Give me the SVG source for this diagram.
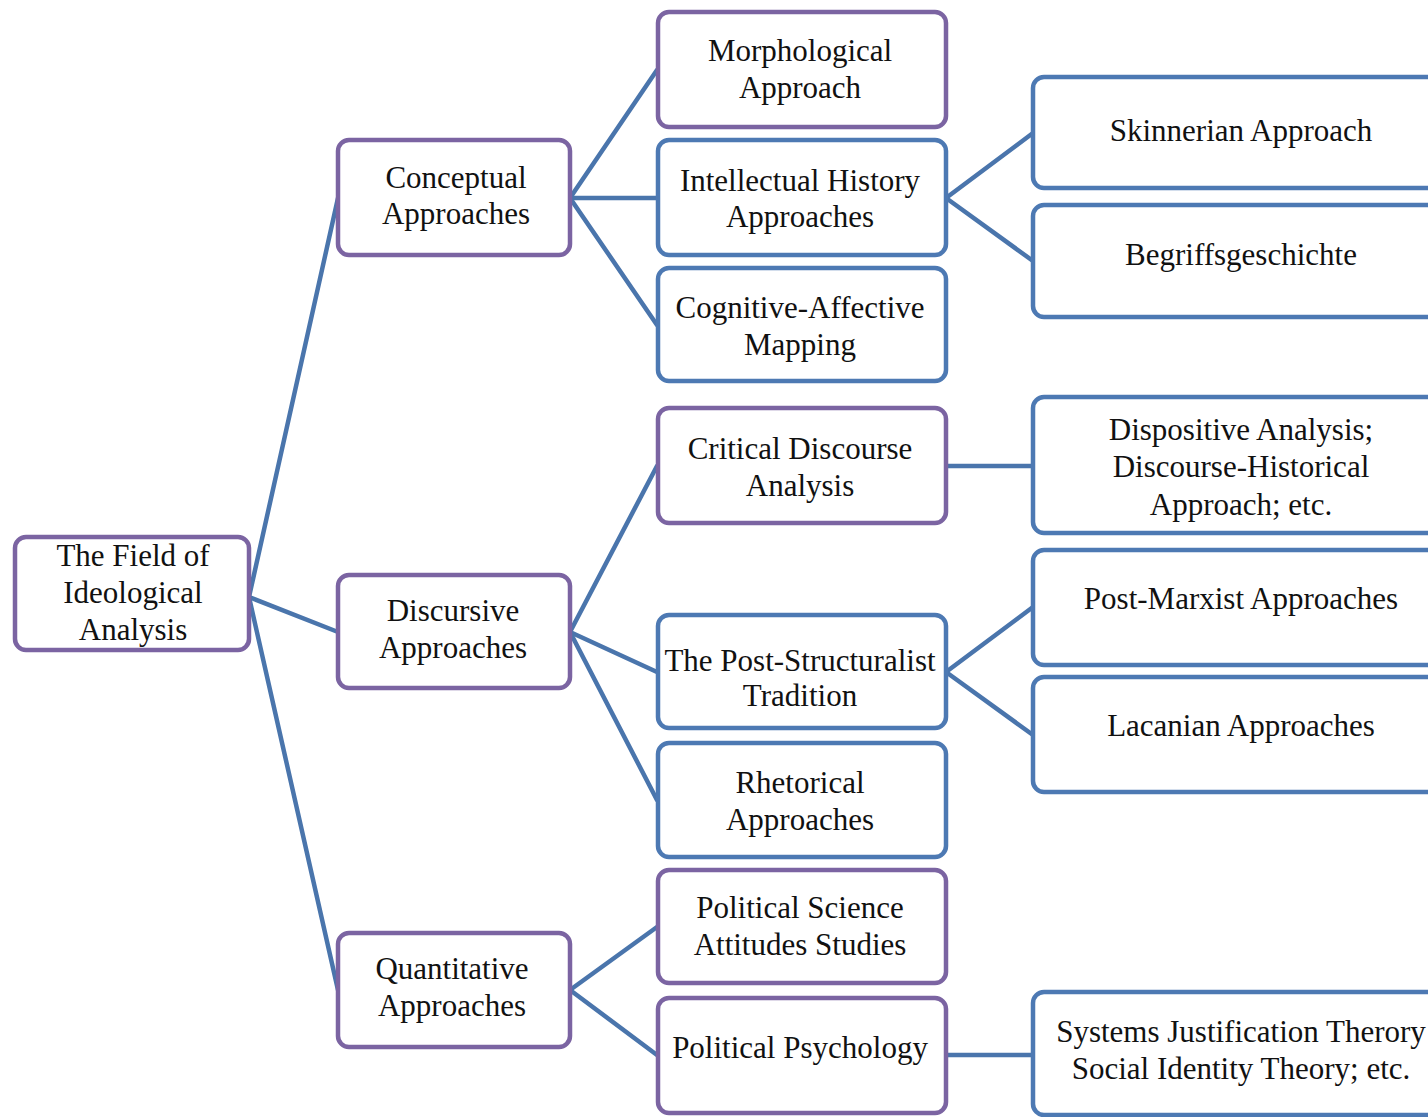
<svg xmlns="http://www.w3.org/2000/svg" width="1428" height="1117" viewBox="0 0 1428 1117">
  <style>
    .box { fill: #ffffff; stroke-width: 4.5; }
    .purple { stroke: #7b64a2; }
    .blue { stroke: #4d79b3; }
    .link { stroke: #4a75ac; stroke-width: 4.5; fill: none; stroke-linecap: round; }
  </style>
  <rect width="1428" height="1117" fill="#ffffff"/>

  <g id="connectors">
    <!-- root to second level -->
    <line class="link" x1="249" y1="597" x2="338" y2="198"/>
    <line class="link" x1="249" y1="597" x2="338" y2="632"/>
    <line class="link" x1="249" y1="597" x2="338" y2="990"/>
    <!-- conceptual -->
    <line class="link" x1="570" y1="198" x2="657" y2="70"/>
    <line class="link" x1="570" y1="198" x2="657" y2="198"/>
    <line class="link" x1="570" y1="198" x2="657" y2="325"/>
    <!-- intellectual history -->
    <line class="link" x1="946" y1="198" x2="1033" y2="133"/>
    <line class="link" x1="946" y1="198" x2="1033" y2="261"/>
    <!-- discursive -->
    <line class="link" x1="570" y1="632" x2="657" y2="466"/>
    <line class="link" x1="570" y1="632" x2="657" y2="672"/>
    <line class="link" x1="570" y1="632" x2="657" y2="800"/>
    <!-- critical discourse -->
    <line class="link" x1="946" y1="466" x2="1033" y2="466"/>
    <!-- post-structuralist -->
    <line class="link" x1="946" y1="672" x2="1033" y2="607"/>
    <line class="link" x1="946" y1="672" x2="1033" y2="735"/>
    <!-- quantitative -->
    <line class="link" x1="570" y1="990" x2="657" y2="927"/>
    <line class="link" x1="570" y1="990" x2="657" y2="1055"/>
    <!-- political psychology -->
    <line class="link" x1="946" y1="1055" x2="1033" y2="1055"/>
  </g>

  <g font-family="Liberation Serif, Times New Roman, serif" font-size="31" fill="#111111" text-anchor="middle">
    <g id="root">
      <rect class="box purple" x="15" y="537" width="234" height="113" rx="11"/>
      <text x="133" y="566">The Field of</text>
      <text x="133" y="603">Ideological</text>
      <text x="133" y="640">Analysis</text>
    </g>

    <g id="conceptual">
      <rect class="box purple" x="338" y="140" width="232" height="115" rx="11"/>
      <text x="456" y="188">Conceptual</text>
      <text x="456" y="224">Approaches</text>
    </g>
    <g id="discursive">
      <rect class="box purple" x="338" y="575" width="232" height="113" rx="11"/>
      <text x="453" y="621">Discursive</text>
      <text x="453" y="658">Approaches</text>
    </g>
    <g id="quantitative">
      <rect class="box purple" x="338" y="933" width="232" height="114" rx="11"/>
      <text x="452" y="979">Quantitative</text>
      <text x="452" y="1016">Approaches</text>
    </g>

    <g id="morphological">
      <rect class="box purple" x="658" y="12" width="288" height="115" rx="11"/>
      <text x="800" y="61">Morphological</text>
      <text x="800" y="98">Approach</text>
    </g>
    <g id="intellectual-history">
      <rect class="box blue" x="658" y="140" width="288" height="115" rx="11"/>
      <text x="800" y="191">Intellectual History</text>
      <text x="800" y="227">Approaches</text>
    </g>
    <g id="cognitive-affective">
      <rect class="box blue" x="658" y="268" width="288" height="113" rx="11"/>
      <text x="800" y="318">Cognitive-Affective</text>
      <text x="800" y="355">Mapping</text>
    </g>
    <g id="critical-discourse">
      <rect class="box purple" x="658" y="408" width="288" height="115" rx="11"/>
      <text x="800" y="459">Critical Discourse</text>
      <text x="800" y="496">Analysis</text>
    </g>
    <g id="post-structuralist">
      <rect class="box blue" x="658" y="615" width="288" height="113" rx="11"/>
      <text x="800" y="671">The Post-Structuralist</text>
      <text x="800" y="706">Tradition</text>
    </g>
    <g id="rhetorical">
      <rect class="box blue" x="658" y="743" width="288" height="114" rx="11"/>
      <text x="800" y="793">Rhetorical</text>
      <text x="800" y="830">Approaches</text>
    </g>
    <g id="political-science">
      <rect class="box purple" x="658" y="870" width="288" height="113" rx="11"/>
      <text x="800" y="918">Political Science</text>
      <text x="800" y="955">Attitudes Studies</text>
    </g>
    <g id="political-psychology">
      <rect class="box purple" x="658" y="998" width="288" height="115" rx="11"/>
      <text x="800" y="1058">Political Psychology</text>
    </g>

    <g id="skinnerian">
      <rect class="box blue" x="1033" y="77" width="420" height="111" rx="11"/>
      <text x="1241" y="141">Skinnerian Approach</text>
    </g>
    <g id="begriffsgeschichte">
      <rect class="box blue" x="1033" y="205" width="420" height="112" rx="11"/>
      <text x="1241" y="265">Begriffsgeschichte</text>
    </g>
    <g id="dispositive">
      <rect class="box blue" x="1033" y="397" width="420" height="136" rx="11"/>
      <text x="1241" y="440">Dispositive Analysis;</text>
      <text x="1241" y="477">Discourse-Historical</text>
      <text x="1241" y="515">Approach; etc.</text>
    </g>
    <g id="post-marxist">
      <rect class="box blue" x="1033" y="550" width="420" height="115" rx="11"/>
      <text x="1241" y="609">Post-Marxist Approaches</text>
    </g>
    <g id="lacanian">
      <rect class="box blue" x="1033" y="677" width="420" height="115" rx="11"/>
      <text x="1241" y="736">Lacanian Approaches</text>
    </g>
    <g id="systems-justification">
      <rect class="box blue" x="1033" y="992" width="420" height="123" rx="11"/>
      <text x="1241" y="1042">Systems Justification Therory</text>
      <text x="1241" y="1079">Social Identity Theory; etc.</text>
    </g>
  </g>
</svg>
